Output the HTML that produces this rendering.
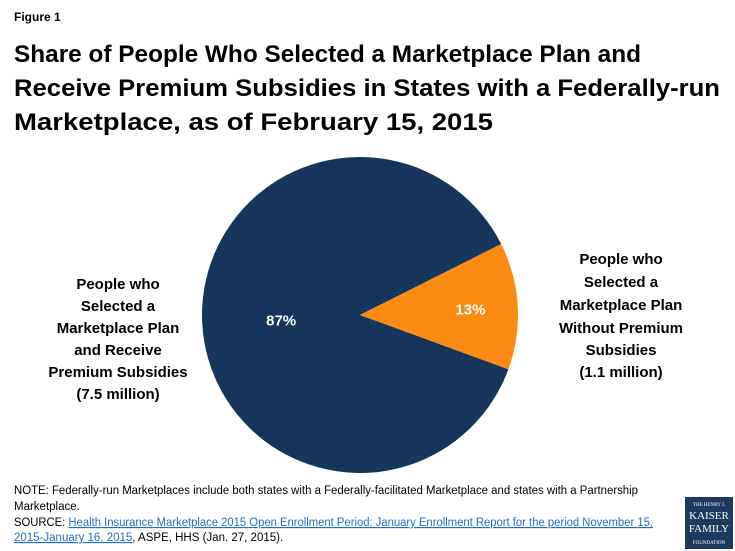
<!DOCTYPE html>
<html><head><meta charset="utf-8"><style>
html,body{margin:0;padding:0;background:#fff;}
svg{display:block;font-family:"Liberation Sans",sans-serif;}
</style></head><body>
<svg width="735" height="551" viewBox="0 0 735 551">
<text x="14" y="21" font-size="12" font-weight="bold" fill="#000">Figure 1</text>
<g font-size="24" font-weight="bold" fill="#000">
<text x="14" y="62" textLength="627" lengthAdjust="spacingAndGlyphs">Share of People Who Selected a Marketplace Plan and</text>
<text x="14" y="96" textLength="706" lengthAdjust="spacingAndGlyphs">Receive Premium Subsidies in States with a Federally-run</text>
<text x="14" y="130" textLength="479" lengthAdjust="spacingAndGlyphs">Marketplace, as of February 15, 2015</text>
</g>
<g id="pie"></g>
<g font-size="15" font-weight="bold" fill="#000" text-anchor="middle">
<text x="118" y="289">People who</text><text x="118" y="311">Selected a</text><text x="118" y="333">Marketplace Plan</text><text x="118" y="355">and Receive</text><text x="118" y="377">Premium Subsidies</text><text x="118" y="399">(7.5 million)</text>
</g>
<g font-size="15" font-weight="bold" fill="#000" text-anchor="middle">
<text x="621" y="264">People who</text><text x="621" y="287">Selected a</text><text x="621" y="310">Marketplace Plan</text><text x="621" y="333">Without Premium</text><text x="621" y="355">Subsidies</text><text x="621" y="377">(1.1 million)</text>
</g>
<g font-size="11.5" fill="#000">
<text x="14" y="494" textLength="624" lengthAdjust="spacingAndGlyphs">NOTE:  Federally-run Marketplaces include both states with a Federally-facilitated Marketplace and states with a Partnership</text>
<text x="14" y="510">Marketplace.</text>
<text x="14" y="526" textLength="639" lengthAdjust="spacingAndGlyphs">SOURCE: <tspan fill="#1f6fbf" text-decoration="underline">Health Insurance Marketplace 2015 Open Enrollment Period:  January Enrollment Report for the period November 15,</tspan></text>
<text x="14" y="541"><tspan fill="#1f6fbf" text-decoration="underline">2015-January 16, 2015</tspan>, ASPE, HHS (Jan. 27, 2015).</text>
</g>
<g>
<rect x="685" y="497" width="48" height="52" fill="#1b3a5f"/>
<text x="709" y="506" font-size="5" fill="#fff" text-anchor="middle" font-family="Liberation Serif,serif">THE HENRY J.</text>
<text x="709" y="519" font-size="11" fill="#fff" text-anchor="middle" font-family="Liberation Serif,serif">KAISER</text>
<text x="709" y="532" font-size="11" fill="#fff" text-anchor="middle" font-family="Liberation Serif,serif">FAMILY</text>
<text x="709" y="544" font-size="5" fill="#fff" text-anchor="middle" font-family="Liberation Serif,serif">FOUNDATION</text>
</g>
<script>
const categories = ["Receive Premium Subsidies", "Without Premium Subsidies"];
const values = [87, 13];
const valueLabels = ["87%", "13%"];
const colors = ["#15355a", "#fb8b12"];
(function(){
  const ns="http://www.w3.org/2000/svg";
  const g=document.getElementById('pie');
  const cx=360, cy=315, r=158;
  const total=values.reduce((a,b)=>a+b,0);
  let start = 63.3 + values[1]/total*360;
  const labelR=[0.5,0.7];
  values.forEach((v,i)=>{
    const sweep=v/total*360;
    const a0=(start-90)*Math.PI/180, a1=(start+sweep-90)*Math.PI/180;
    const x0=cx+r*Math.cos(a0), y0=cy+r*Math.sin(a0);
    const x1=cx+r*Math.cos(a1), y1=cy+r*Math.sin(a1);
    const p=document.createElementNS(ns,'path');
    p.setAttribute('d',`M${cx},${cy} L${x0},${y0} A${r},${r} 0 ${sweep>180?1:0} 1 ${x1},${y1} Z`);
    p.setAttribute('fill',colors[i]);
    
    
    g.appendChild(p);
    const am=(start+sweep/2-90)*Math.PI/180;
    const t=document.createElementNS(ns,'text');
    t.setAttribute('x',cx+r*labelR[i]*Math.cos(am));
    t.setAttribute('y',cy+r*labelR[i]*Math.sin(am)+6);
    t.setAttribute('fill','#fff');
    t.setAttribute('font-size','15');
    t.setAttribute('font-weight','bold');
    t.setAttribute('text-anchor','middle');
    t.textContent=valueLabels[i];
    
    
    g.appendChild(t);
    start+=sweep;
  });
})();
</script>
</svg>
</body></html>
